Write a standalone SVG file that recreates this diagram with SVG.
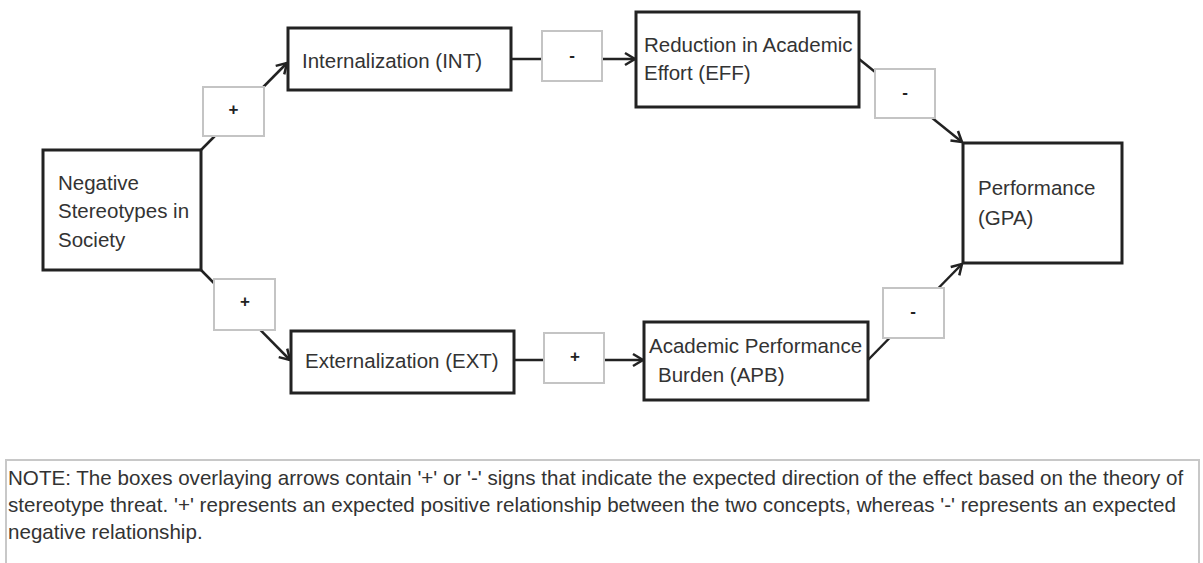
<svg xmlns="http://www.w3.org/2000/svg" width="1203" height="563" viewBox="0 0 1203 563">
<style>
.node{fill:#fff;stroke:#222;stroke-width:3}
.lbl{fill:#fff;stroke:#c4c4c4;stroke-width:2}
.t{font-family:"Liberation Sans",Arial,sans-serif;font-size:20.5px;fill:#333}
.s{font-family:"Liberation Sans",Arial,sans-serif;font-size:17px;font-weight:bold;fill:#222;text-anchor:middle}
.c{stroke:#222;stroke-width:2.5;fill:none}
.note{font-family:"Liberation Sans",Arial,sans-serif;font-size:20.6px;fill:#333}
</style>
<defs>
<marker id="ah" markerUnits="userSpaceOnUse" markerWidth="16" markerHeight="16" refX="11" refY="7" orient="auto" viewBox="0 0 16 14">
<path d="M1,1 L11,7 L1,13" fill="none" stroke="#222" stroke-width="2.5"/>
</marker>
</defs>
<rect x="0" y="0" width="1203" height="563" fill="#fff"/>
<g id="connectors">
<line class="c" x1="201" y1="150" x2="287" y2="63" marker-end="url(#ah)"/>
<line class="c" x1="511" y1="59" x2="635" y2="59" marker-end="url(#ah)"/>
<line class="c" x1="859" y1="59" x2="962" y2="142" marker-end="url(#ah)"/>
<line class="c" x1="201" y1="270" x2="290" y2="360" marker-end="url(#ah)"/>
<line class="c" x1="514" y1="360" x2="643" y2="360" marker-end="url(#ah)"/>
<line class="c" x1="868" y1="360" x2="962" y2="264" marker-end="url(#ah)"/>
</g>
<g id="sign-nss-int"><rect class="lbl" x="203" y="87" width="61" height="49"/><text class="s" x="233.5" y="115">+</text></g>
<g id="sign-int-eff"><rect class="lbl" x="542" y="31" width="60" height="50"/><text class="s" x="572" y="61">-</text></g>
<g id="sign-eff-gpa"><rect class="lbl" x="875" y="69" width="60" height="49"/><text class="s" x="905" y="98">-</text></g>
<g id="sign-nss-ext"><rect class="lbl" x="214" y="279" width="61" height="51"/><text class="s" x="245" y="307">+</text></g>
<g id="sign-ext-apb"><rect class="lbl" x="544" y="333" width="60" height="50"/><text class="s" x="575" y="362">+</text></g>
<g id="sign-apb-gpa"><rect class="lbl" x="883" y="288" width="61" height="50"/><text class="s" x="913" y="317">-</text></g>
<g id="nss">
<rect class="node" x="43" y="150" width="158" height="120"/>
<text class="t" x="58" y="190">Negative</text>
<text class="t" x="58" y="218">Stereotypes in</text>
<text class="t" x="58" y="247">Society</text>
</g>
<g id="int">
<rect class="node" x="288" y="28" width="223" height="62"/>
<text class="t" x="302" y="68">Internalization (INT)</text>
</g>
<g id="eff">
<rect class="node" x="636" y="12" width="223" height="95"/>
<text class="t" x="644" y="52">Reduction in Academic</text>
<text class="t" x="644" y="80">Effort (EFF)</text>
</g>
<g id="gpa">
<rect class="node" x="963" y="143" width="159" height="120"/>
<text class="t" x="978" y="195">Performance</text>
<text class="t" x="978" y="225">(GPA)</text>
</g>
<g id="ext">
<rect class="node" x="291" y="331" width="223" height="62"/>
<text class="t" x="305" y="368">Externalization (EXT)</text>
</g>
<g id="apb">
<rect class="node" x="644" y="322" width="224" height="78"/>
<text class="t" x="649" y="353">Academic Performance</text>
<text class="t" x="658" y="382">Burden (APB)</text>
</g>
<g id="note">
<rect x="6" y="460" width="1193" height="110" fill="#fff" stroke="#c8c8c8" stroke-width="2"/>
<text class="note" x="8" y="485">NOTE: The boxes overlaying arrows contain '+' or '-' signs that indicate the expected direction of the effect based on the theory of</text>
<text class="note" x="8" y="512">stereotype threat. '+' represents an expected positive relationship between the two concepts, whereas '-' represents an expected</text>
<text class="note" x="8" y="539">negative relationship.</text>
</g>
</svg>
